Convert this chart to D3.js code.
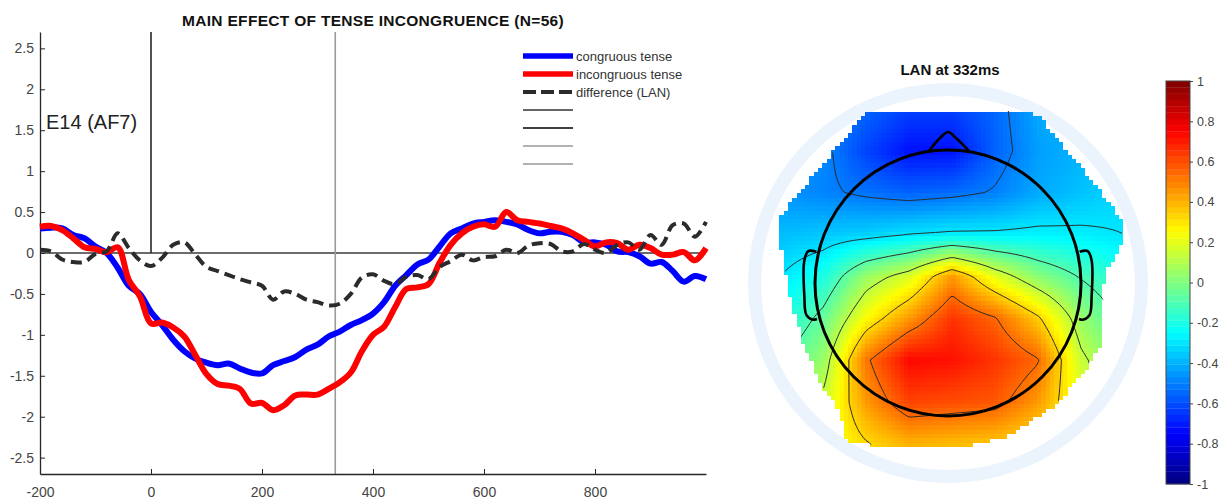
<!DOCTYPE html>
<html>
<head>
<meta charset="utf-8">
<script src="https://cdn.jsdelivr.net/npm/d3@7"></script>
<style>
  body { margin: 0; background: #fff; }
  svg { display: block; font-family: "Liberation Sans", Arial, sans-serif; }
</style>
</head>
<body>
<svg id="fig" width="1224" height="500"></svg>
<script>
// ERP waveforms at E14 (AF7), sampled every 20 ms.
const timesMs = [-200, -180, -160, -140, -120, -100, -80, -60, -40, -20,
    0, 20, 40, 60, 80, 100, 120, 140, 160, 180,
    200, 220, 240, 260, 280, 300, 320, 340, 360, 380,
    400, 420, 440, 460, 480, 500, 520, 540, 560, 580,
    600, 620, 640, 660, 680, 700, 720, 740, 760, 780,
    800, 820, 840, 860, 880, 900, 920, 940, 960, 980, 1000];

const congruous = [0.30, 0.31, 0.30, 0.22, 0.18, 0.08, 0.00, -0.18, -0.40, -0.50,
    -0.72, -0.88, -1.06, -1.20, -1.29, -1.34, -1.37, -1.35, -1.41, -1.46,
    -1.47, -1.37, -1.32, -1.27, -1.18, -1.12, -1.02, -0.96, -0.88, -0.82,
    -0.74, -0.60, -0.40, -0.27, -0.14, -0.08, 0.08, 0.24, 0.30, 0.36,
    0.38, 0.40, 0.38, 0.35, 0.28, 0.24, 0.26, 0.26, 0.22, 0.13,
    0.13, 0.10, 0.02, 0.01, -0.04, -0.13, -0.11, -0.22, -0.35, -0.28, -0.32];

const incongruous = [0.32, 0.33, 0.28, 0.18, 0.07, 0.05, 0.01, 0.07, -0.33, -0.53,
    -0.86, -0.85, -0.91, -1.02, -1.25, -1.48, -1.60, -1.62, -1.66, -1.84,
    -1.83, -1.92, -1.86, -1.74, -1.73, -1.73, -1.66, -1.58, -1.46, -1.20,
    -1.00, -0.90, -0.66, -0.44, -0.42, -0.38, -0.12, 0.10, 0.24, 0.32,
    0.35, 0.32, 0.50, 0.40, 0.38, 0.36, 0.33, 0.30, 0.24, 0.16,
    0.08, 0.13, 0.12, 0.04, 0.10, 0.06, -0.02, -0.02, 0.01, -0.09, 0.06];

const differenceLan = [0.04, 0.02, -0.08, -0.11, -0.11, -0.01, 0.02, 0.24, 0.06, -0.09,
    -0.16, -0.06, 0.10, 0.13, -0.02, -0.17, -0.22, -0.27, -0.32, -0.36,
    -0.40, -0.57, -0.47, -0.50, -0.57, -0.60, -0.64, -0.62, -0.50, -0.30,
    -0.26, -0.34, -0.38, -0.29, -0.27, -0.32, -0.17, -0.10, -0.02, -0.09,
    -0.05, -0.04, 0.04, 0.00, 0.09, 0.12, 0.11, 0.02, 0.02, 0.11,
    0.04, 0.00, 0.10, 0.13, 0.04, 0.22, 0.10, 0.34, 0.36, 0.20, 0.38];

const xTicks = [-200, 0, 200, 400, 600, 800];
const yTicks = [-2.5, -2, -1.5, -1, -0.5, 0, 0.5, 1, 1.5, 2, 2.5];
const legendLabels = ["congruous tense", "incongruous tense", "difference (LAN)", "", "", "", ""];
const cursorMs = 332;

// Scalp map values (LAN at 332 ms), coarse 9x9 grid, front row first.
const topoRows = [
    [-0.42, -0.46, -0.55, -0.62, -0.62, -0.55, -0.42, -0.38, -0.34],
    [-0.45, -0.48, -0.62, -0.72, -0.72, -0.56, -0.44, -0.40, -0.36],
    [-0.46, -0.49, -0.53, -0.56, -0.54, -0.50, -0.42, -0.37, -0.33],
    [-0.38, -0.36, -0.34, -0.30, -0.28, -0.28, -0.27, -0.28, -0.30],
    [-0.30, -0.20, 0.05, 0.18, 0.45, 0.20, 0.02, -0.10, -0.20],
    [-0.22, -0.05, 0.25, 0.45, 0.65, 0.55, 0.35, 0.05, -0.12],
    [-0.10, 0.05, 0.52, 0.74, 0.72, 0.65, 0.55, 0.15, -0.02],
    [0.00, 0.15, 0.45, 0.62, 0.60, 0.58, 0.45, 0.20, 0.05],
    [0.12, 0.20, 0.32, 0.40, 0.38, 0.36, 0.30, 0.20, 0.10]
];
const contourLevels = [-0.51, -0.30, -0.09, 0.12, 0.33, 0.54];
const colorbarTicks = [-1, -0.8, -0.6, -0.4, -0.2, 0, 0.2, 0.4, 0.6, 0.8, 1];

const svg = d3.select("#fig");

// ---------- ERP panel ----------
const x = d3.scaleLinear().domain([-200, 1000]).range([40, 706]);
const y = d3.scaleLinear().domain([-2.7, 2.7]).range([474, 32]);
const AXIS_COLOR = "#262626";
const LABEL_COLOR = "#444";

const erp = svg.append("g");

// reference lines sit behind the waveforms
erp.append("line")
    .attr("x1", x(-200)).attr("x2", x(1000))
    .attr("y1", y(0)).attr("y2", y(0))
    .attr("stroke", "#3a3a3a").attr("stroke-width", 1.6);
erp.append("line")
    .attr("x1", x(0)).attr("x2", x(0))
    .attr("y1", y(2.7)).attr("y2", y(0))
    .attr("stroke", AXIS_COLOR).attr("stroke-width", 1.6);
erp.append("line")
    .attr("x1", x(cursorMs)).attr("x2", x(cursorMs))
    .attr("y1", y(2.7)).attr("y2", y(-2.7))
    .attr("stroke", "#9a9a9a").attr("stroke-width", 1.6);

const yAxis = erp.append("g")
    .attr("transform", `translate(${x(-200)},0)`)
    .call(d3.axisLeft(y).tickValues(yTicks).tickSize(-5).tickSizeOuter(0)
        .tickPadding(6).tickFormat(d => String(d)));

const xAxis = erp.append("g")
    .attr("transform", `translate(0,${y(-2.7)})`)
    .call(d3.axisBottom(x).tickValues(xTicks).tickSize(-5).tickSizeOuter(0)
        .tickPadding(13).tickFormat(d => String(d)));

[yAxis, xAxis].forEach(a => {
    a.select(".domain").attr("stroke", AXIS_COLOR).attr("stroke-width", 1.3);
    a.selectAll(".tick line").attr("stroke", AXIS_COLOR);
    a.selectAll("text").attr("fill", LABEL_COLOR).style("font-size", "14px");
});

const line = d3.line()
    .x((d, i) => x(timesMs[i]))
    .y(d => y(d))
    .curve(d3.curveCatmullRom);

erp.append("path").datum(congruous)
    .attr("fill", "none").attr("stroke", "#0000ff").attr("stroke-width", 6)
    .attr("stroke-linejoin", "round").attr("d", line);
erp.append("path").datum(incongruous)
    .attr("fill", "none").attr("stroke", "#ff0000").attr("stroke-width", 6)
    .attr("stroke-linejoin", "round").attr("d", line);
erp.append("path").datum(differenceLan)
    .attr("fill", "none").attr("stroke", "#2b2b2b").attr("stroke-width", 4)
    .attr("stroke-dasharray", "11,6").attr("d", line);

svg.append("text")
    .attr("x", 373).attr("y", 26)
    .attr("text-anchor", "middle")
    .style("font-size", "15.5px").style("font-weight", "bold")
    .style("letter-spacing", "0.3px")
    .attr("fill", "#111")
    .text("MAIN EFFECT OF TENSE INCONGRUENCE (N=56)");

svg.append("text")
    .attr("x", 46).attr("y", 129)
    .style("font-size", "20px")
    .attr("fill", "#222")
    .text("E14 (AF7)");

// legend: three labelled series plus the unlabeled marker lines
const legendStyles = [
    { color: "#0000ff", width: 5.5, dash: null },
    { color: "#ff0000", width: 5.5, dash: null },
    { color: "#2b2b2b", width: 4, dash: "13,5" },
    { color: "#333", width: 1.5, dash: null },
    { color: "#000", width: 1.5, dash: null },
    { color: "#999", width: 1.5, dash: null },
    { color: "#999", width: 1.5, dash: null }
];
const legend = svg.append("g").attr("transform", "translate(523,56)");
const rows = legend.selectAll("g").data(legendLabels).join("g")
    .attr("transform", (d, i) => `translate(0,${i * 18})`);
rows.append("line")
    .attr("x1", 0).attr("x2", 50).attr("y1", 0).attr("y2", 0)
    .attr("stroke", (d, i) => legendStyles[i].color)
    .attr("stroke-width", (d, i) => legendStyles[i].width)
    .attr("stroke-dasharray", (d, i) => legendStyles[i].dash);
rows.append("text")
    .attr("x", 53).attr("y", 4.5)
    .style("font-size", "13px")
    .attr("fill", "#333")
    .text(d => d);

// ---------- Scalp map ----------
const headX = d3.scaleLinear().domain([-1, 1]).range([815, 1081]);
const headY = d3.scaleLinear().domain([-1, 1]).range([150, 416]);
const headR = headX(1) - headX(0);

// MATLAB-style jet colormap
const jet = t => {
    const c = v => Math.round(255 * Math.max(0, Math.min(1, v)));
    return `rgb(${c(1.5 - Math.abs(4 * t - 3))},${c(1.5 - Math.abs(4 * t - 2))},${c(1.5 - Math.abs(4 * t - 1))})`;
};
const color = d3.scaleSequential(jet).domain([-1, 1]).clamp(true);

// grid layout in head units
const gridU = d3.scaleLinear().domain([0, topoRows[0].length - 1]).range([-1.26, 1.32]);
const gridV = d3.scaleLinear().domain([0, topoRows.length - 1]).range([-1.31, 1.21]);

const sample = (u, v) => {
    const nc = topoRows[0].length - 1, nr = topoRows.length - 1;
    const fi = Math.max(0, Math.min(nc, gridU.invert(u)));
    const fj = Math.max(0, Math.min(nr, gridV.invert(v)));
    const i0 = Math.min(nc - 1, Math.floor(fi)), j0 = Math.min(nr - 1, Math.floor(fj));
    const a = fi - i0, b = fj - j0;
    const r0 = topoRows[j0], r1 = topoRows[j0 + 1];
    return (1 - b) * ((1 - a) * r0[i0] + a * r0[i0 + 1]) + b * ((1 - a) * r1[i0] + a * r1[i0 + 1]);
};

// interpolation area (electrode hull), in head units
const hull = [
    [-0.609, -1.293], [0.624, -1.293], [0.692, -1.241], [0.857, -1.038], [1.045, -0.812],
    [1.195, -0.624], [1.308, -0.474], [1.308, -0.301], [1.241, -0.173], [1.173, -0.060],
    [1.158, 0.451], [1.015, 0.677], [0.789, 0.932], [0.519, 1.105], [0.429, 1.158],
    [0.075, 1.241], [-0.211, 1.241], [-0.752, 1.203], [-0.835, 0.932], [-0.962, 0.752],
    [-1.098, 0.429], [-1.188, 0.105], [-1.248, -0.211], [-1.271, -0.496]
];
const hullPx = hull.map(([u, v]) => [headX(u), headY(v)]);

const topo = svg.append("g");

topo.append("circle")
    .attr("cx", headX(0)).attr("cy", headY(0)).attr("r", headR * 1.455)
    .attr("fill", "none").attr("stroke", "#ebf3fd").attr("stroke-width", 13);

svg.append("defs").append("clipPath").attr("id", "hullClip")
    .append("path").attr("d", "M" + hullPx.join("L") + "Z");

// pixelated colour cells
const cell = 0.0323;
const cells = [];
for (let v = -1.32; v < 1.27; v += cell) {
    for (let u = -1.30; u < 1.34; u += cell) {
        const cu = u + cell / 2, cv = v + cell / 2;
        if (d3.polygonContains(hull, [cu, cv])) cells.push({ u, v, val: sample(cu, cv) });
    }
}
topo.append("g").selectAll("rect").data(cells).join("rect")
    .attr("x", d => headX(d.u)).attr("y", d => headY(d.v))
    .attr("width", headR * cell + 0.4).attr("height", headR * cell + 0.4)
    .attr("shape-rendering", "crispEdges")
    .attr("fill", d => color(d.val));

// contour lines from the same field
const step = 0.02, lo = -1.42, n = 143;
const field = new Array(n * n);
for (let j = 0; j < n; j++)
    for (let i = 0; i < n; i++) field[j * n + i] = sample(lo + i * step, lo + j * step);
const contours = d3.contours().size([n, n]).thresholds(contourLevels)(field);
const toPx = d3.geoTransform({
    point(px, py) { this.stream.point(headX(lo + (px - 0.5) * step), headY(lo + (py - 0.5) * step)); }
});
topo.append("g").attr("clip-path", "url(#hullClip)")
    .selectAll("path").data(contours).join("path")
    .attr("d", d3.geoPath(toPx))
    .attr("fill", "none").attr("stroke", "#2a2a2a").attr("stroke-width", 1)
    .attr("stroke-linejoin", "round");

// head outline, nose and ears
const outline = d3.line().x(d => headX(d[0])).y(d => headY(d[1])).curve(d3.curveCatmullRom);
topo.append("circle")
    .attr("cx", headX(0)).attr("cy", headY(0)).attr("r", headR)
    .attr("fill", "none").attr("stroke", "#000").attr("stroke-width", 3);
topo.append("path")
    .attr("d", outline([[-0.145, -0.99], [-0.06, -1.09], [0, -1.135], [0.06, -1.09], [0.16, -0.99]]))
    .attr("fill", "none").attr("stroke", "#000").attr("stroke-width", 2.6);
[-1, 1].forEach(s => {
    topo.append("path")
        .attr("d", outline([[s * 0.99, -0.235], [s * 1.05, -0.24], [s * 1.08, -0.17], [s * 1.08, 0.1],
            [s * 1.065, 0.24], [s * 1.02, 0.275], [s * 0.985, 0.27]]))
        .attr("fill", "none").attr("stroke", "#000").attr("stroke-width", 2.6);
});

svg.append("text")
    .attr("x", 950).attr("y", 75)
    .attr("text-anchor", "middle")
    .style("font-size", "15px").style("font-weight", "bold")
    .attr("fill", "#111")
    .text("LAN at 332ms");

// ---------- Colorbar ----------
const cbY = d3.scaleLinear().domain([-1, 1]).range([484, 81]);
const levels = d3.range(64).map(k => -1 + (k + 0.5) * 2 / 64);
const cb = svg.append("g");
cb.selectAll("rect").data(levels).join("rect")
    .attr("x", 1166).attr("width", 24)
    .attr("y", d => cbY(d + 1 / 64))
    .attr("height", cbY(-1) - cbY(-1 + 2 / 64) + 0.3)
    .attr("fill", d => color(d));
cb.append("rect")
    .attr("x", 1166).attr("y", cbY(1)).attr("width", 24).attr("height", cbY(-1) - cbY(1))
    .attr("fill", "none").attr("stroke", "#444").attr("stroke-width", 1);
const cbAxis = cb.append("g")
    .attr("transform", "translate(1190,0)")
    .call(d3.axisRight(cbY).tickValues(colorbarTicks).tickSize(3).tickSizeOuter(0)
        .tickPadding(4).tickFormat(d => String(d)));
cbAxis.select(".domain").remove();
cbAxis.selectAll(".tick line").attr("stroke", "#444");
cbAxis.selectAll("text").attr("fill", LABEL_COLOR).style("font-size", "12.5px");
</script>
</body>
</html>
